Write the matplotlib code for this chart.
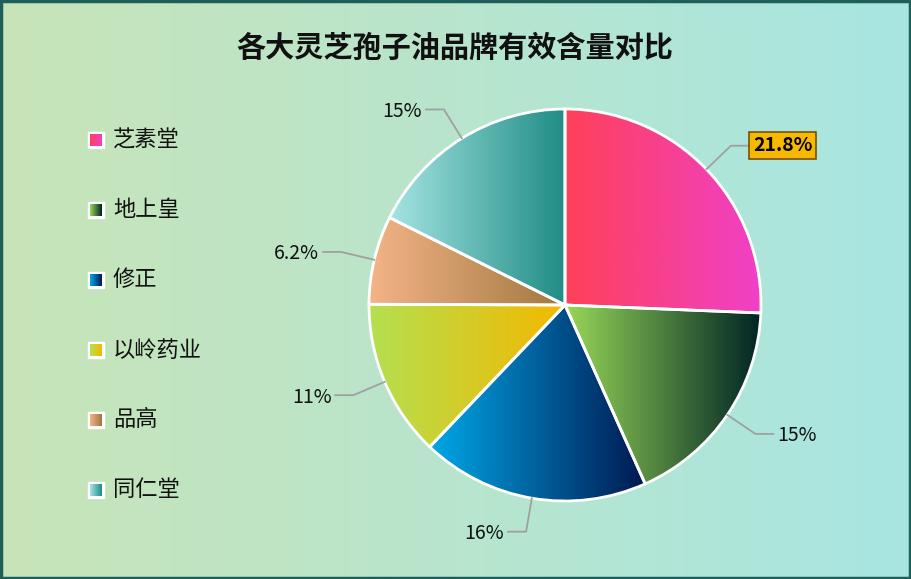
import numpy as np
import matplotlib.pyplot as plt
from matplotlib.colors import LinearSegmentedColormap

brands = ["芝素堂", "地上皇", "修正", "以岭药业", "品高", "同仁堂"]
values = [21.8, 15, 16, 11, 6.2, 15]
labels = ["21.8%", "15%", "16%", "11%", "6.2%", "15%"]
grads = [("#ff4058", "#f040c8"), ("#98d858", "#002424"), ("#00a8e8", "#001850"),
         ("#b4e050", "#f4b800"), ("#f4b488", "#a07840"), ("#a4e4e4", "#208c84")]

plt.rcParams["font.family"] = ["Noto Sans CJK SC", "DejaVu Sans"]
W, H = 911, 579
fig = plt.figure(figsize=(W / 100, H / 100), dpi=100)
ax = fig.add_axes([0, 0, 1, 1])

bg = LinearSegmentedColormap.from_list("bg", ["#c8e4b8", "#a8e6e2"])
ax.imshow(np.linspace(0, 1, 256)[None, :], cmap=bg, extent=[0, W, 0, H], aspect="auto", zorder=0)
ax.add_patch(plt.Rectangle((1, 1), W - 2, H - 2, fill=False, ec="#1f5f5a", lw=2.5, zorder=10))

ax.text(455, H - 48, "各大灵芝孢子油品牌有效含量对比", ha="center", va="center",
        fontsize=21, fontweight="bold", color="#111111")

cx, cy, r = 565, H - 305, 196
wedges, _ = ax.pie(values, center=(cx, cy), radius=r, startangle=90, counterclock=False,
                   wedgeprops=dict(ec="white", lw=2), frame=True)
ax.set_xlim(0, W)
ax.set_ylim(0, H)
ax.set_aspect("auto")
ax.axis("off")

for w, (c0, c1) in zip(wedges, grads):
    w.set_facecolor("none")
    x0, y0, x1, y1 = w.get_window_extent().transformed(ax.transData.inverted()).extents
    cm = LinearSegmentedColormap.from_list("g", [c0, c1])
    im = ax.imshow(np.linspace(0, 1, 256)[None, :], cmap=cm,
                   extent=[min(x0, x1), max(x0, x1), min(y0, y1), max(y0, y1)],
                   aspect="auto", zorder=1)
    im.set_clip_path(w)
    w.set_zorder(2)

total = sum(values)
start = 90
for i, (v, lab) in enumerate(zip(values, labels)):
    ang = np.deg2rad(start - v / total * 180)
    start -= v / total * 360
    dx, dy = np.cos(ang), np.sin(ang)
    p0 = (cx + r * dx, cy + r * dy)
    p1 = (cx + (r + 34) * dx, cy + (r + 34) * dy)
    side = 1 if dx >= 0 else -1
    p2 = (p1[0] + side * 18, p1[1])
    ax.plot([p0[0], p1[0], p2[0]], [p0[1], p1[1], p2[1]], color="#a0a0a0", lw=1.3, zorder=3)
    tx = p2[0] + side * 4
    ha = "left" if side > 0 else "right"
    if i == 0:
        ax.text(tx, p2[1], lab, ha=ha, va="center", fontsize=14, fontweight="bold",
                bbox=dict(boxstyle="square,pad=0.2", fc="#f7b900", ec="#7a5000", lw=1.2), zorder=4)
    else:
        ax.text(tx, p2[1] - 2, lab, ha=ha, va="center", fontsize=14, color="#111111", zorder=4)

for i, (name, (c0, c1)) in enumerate(zip(brands, grads)):
    y = H - (140 + 70 * i)
    cm = LinearSegmentedColormap.from_list("l", [c0, c1])
    ax.add_patch(plt.Rectangle((88, y - 8), 16, 16, fc="white", ec="white", lw=1, zorder=4))
    ax.imshow(np.linspace(0, 1, 64)[None, :], cmap=cm, extent=[90, 102, y - 6, y + 6],
              aspect="auto", zorder=5)
    ax.text(113, y, name, ha="left", va="center", fontsize=16, color="#111111")

ax.set_xlim(0, W)
ax.set_ylim(0, H)
fig.savefig("out.png", dpi=100)
